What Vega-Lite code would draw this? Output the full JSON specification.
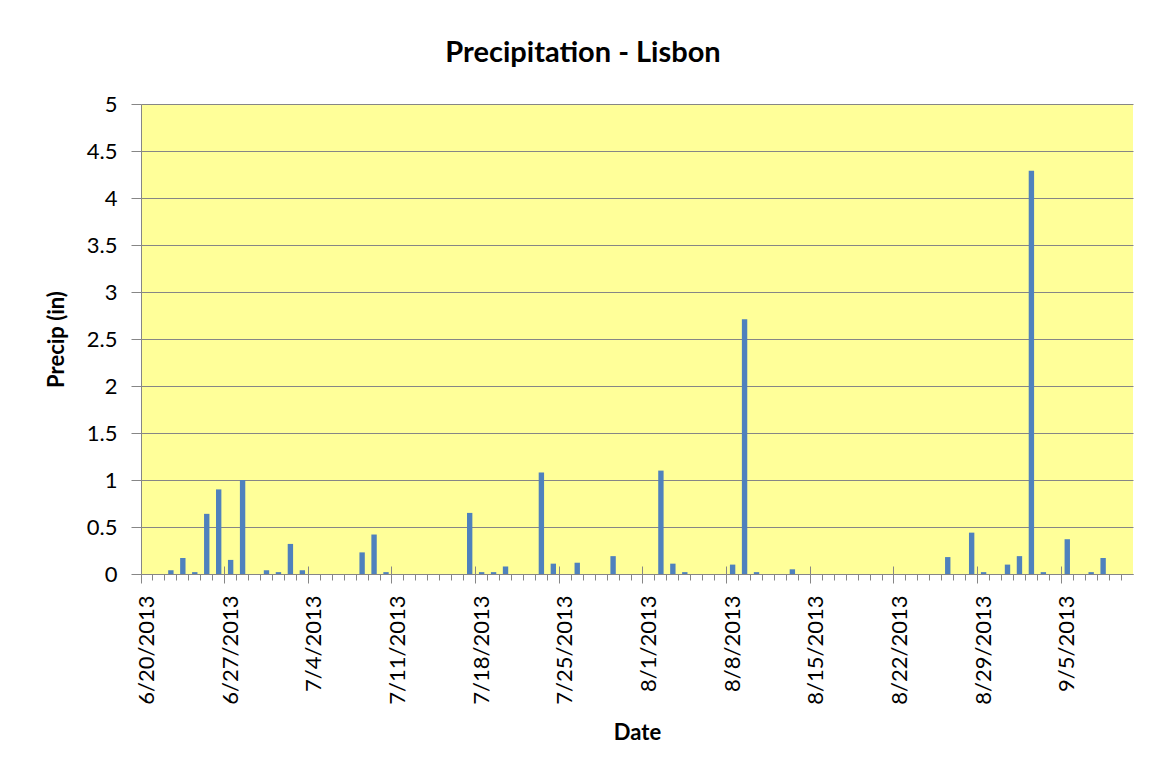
{
  "$schema": "https://vega.github.io/schema/vega-lite/v6.json",
  "autosize": "none",
  "width": 992,
  "height": 470,
  "padding": {"left": 141, "top": 104, "right": 17, "bottom": 199},
  "background": "white",
  "title": {"text": "Precipitation - Lisbon", "font": "Lato", "fontSize": 29, "fontWeight": "bold", "color": "#000000", "anchor": "middle", "offset": 25, "dx": -54},
  "config": {
    "view": {"fill": "#FFFF99", "stroke": null},
    "axis": {"labelFont": "Lato", "titleFont": "Lato", "labelColor": "#000000", "titleColor": "#000000", "domainColor": "#868686", "tickColor": "#868686", "gridColor": "#868686"}
  },
  "data": {"values": [
    {"date": "6/20/2013", "precip": 0},
    {"date": "6/21/2013", "precip": 0},
    {"date": "6/22/2013", "precip": 0.04},
    {"date": "6/23/2013", "precip": 0.17},
    {"date": "6/24/2013", "precip": 0.02},
    {"date": "6/25/2013", "precip": 0.64},
    {"date": "6/26/2013", "precip": 0.9},
    {"date": "6/27/2013", "precip": 0.15},
    {"date": "6/28/2013", "precip": 1.0},
    {"date": "6/29/2013", "precip": 0},
    {"date": "6/30/2013", "precip": 0.04},
    {"date": "7/1/2013", "precip": 0.02},
    {"date": "7/2/2013", "precip": 0.32},
    {"date": "7/3/2013", "precip": 0.04},
    {"date": "7/4/2013", "precip": 0},
    {"date": "7/5/2013", "precip": 0},
    {"date": "7/6/2013", "precip": 0},
    {"date": "7/7/2013", "precip": 0},
    {"date": "7/8/2013", "precip": 0.23},
    {"date": "7/9/2013", "precip": 0.42},
    {"date": "7/10/2013", "precip": 0.02},
    {"date": "7/11/2013", "precip": 0},
    {"date": "7/12/2013", "precip": 0},
    {"date": "7/13/2013", "precip": 0},
    {"date": "7/14/2013", "precip": 0},
    {"date": "7/15/2013", "precip": 0},
    {"date": "7/16/2013", "precip": 0},
    {"date": "7/17/2013", "precip": 0.65},
    {"date": "7/18/2013", "precip": 0.02},
    {"date": "7/19/2013", "precip": 0.02},
    {"date": "7/20/2013", "precip": 0.08},
    {"date": "7/21/2013", "precip": 0},
    {"date": "7/22/2013", "precip": 0},
    {"date": "7/23/2013", "precip": 1.08},
    {"date": "7/24/2013", "precip": 0.11},
    {"date": "7/25/2013", "precip": 0},
    {"date": "7/26/2013", "precip": 0.12},
    {"date": "7/27/2013", "precip": 0},
    {"date": "7/28/2013", "precip": 0},
    {"date": "7/29/2013", "precip": 0.19},
    {"date": "7/30/2013", "precip": 0},
    {"date": "7/31/2013", "precip": 0},
    {"date": "8/1/2013", "precip": 0},
    {"date": "8/2/2013", "precip": 1.1},
    {"date": "8/3/2013", "precip": 0.11},
    {"date": "8/4/2013", "precip": 0.02},
    {"date": "8/5/2013", "precip": 0},
    {"date": "8/6/2013", "precip": 0},
    {"date": "8/7/2013", "precip": 0},
    {"date": "8/8/2013", "precip": 0.1},
    {"date": "8/9/2013", "precip": 2.71},
    {"date": "8/10/2013", "precip": 0.02},
    {"date": "8/11/2013", "precip": 0},
    {"date": "8/12/2013", "precip": 0},
    {"date": "8/13/2013", "precip": 0.05},
    {"date": "8/14/2013", "precip": 0},
    {"date": "8/15/2013", "precip": 0},
    {"date": "8/16/2013", "precip": 0},
    {"date": "8/17/2013", "precip": 0},
    {"date": "8/18/2013", "precip": 0},
    {"date": "8/19/2013", "precip": 0},
    {"date": "8/20/2013", "precip": 0},
    {"date": "8/21/2013", "precip": 0},
    {"date": "8/22/2013", "precip": 0},
    {"date": "8/23/2013", "precip": 0},
    {"date": "8/24/2013", "precip": 0},
    {"date": "8/25/2013", "precip": 0},
    {"date": "8/26/2013", "precip": 0.18},
    {"date": "8/27/2013", "precip": 0},
    {"date": "8/28/2013", "precip": 0.44},
    {"date": "8/29/2013", "precip": 0.02},
    {"date": "8/30/2013", "precip": 0},
    {"date": "8/31/2013", "precip": 0.1},
    {"date": "9/1/2013", "precip": 0.19},
    {"date": "9/2/2013", "precip": 4.29},
    {"date": "9/3/2013", "precip": 0.02},
    {"date": "9/4/2013", "precip": 0},
    {"date": "9/5/2013", "precip": 0.37},
    {"date": "9/6/2013", "precip": 0},
    {"date": "9/7/2013", "precip": 0.02},
    {"date": "9/8/2013", "precip": 0.17},
    {"date": "9/9/2013", "precip": 0},
    {"date": "9/10/2013", "precip": 0}
  ]},
  "resolve": {"axis": {"x": "independent"}},
  "layer": [
    {
      "mark": {"type": "bar", "color": "#4F81BD", "width": {"band": 0.45}},
      "encoding": {
        "x": {
          "field": "date",
          "type": "ordinal",
          "sort": null,
          "scale": {"paddingInner": 0, "paddingOuter": 0},
          "axis": {
            "title": "Date",
            "titleFontSize": 22,
            "titleFontWeight": "bold",
            "titlePadding": 18,
            "labelFontSize": 22,
            "labelAngle": -90,
            "labelAlign": "right",
            "labelBaseline": "middle",
            "labelPadding": 12,
            "bandPosition": 0,
            "domainColor": "#868686",
            "domainWidth": 1,
            "tickWidth": 1,
            "tickSize": {"condition": {"test": "indexof(['6/20/2013','6/27/2013','7/4/2013','7/11/2013','7/18/2013','7/25/2013','8/1/2013','8/8/2013','8/15/2013','8/22/2013','8/29/2013','9/5/2013'], datum.value) >= 0", "value": 9}, "value": 6},
            "labelExpr": "indexof(['6/20/2013','6/27/2013','7/4/2013','7/11/2013','7/18/2013','7/25/2013','8/1/2013','8/8/2013','8/15/2013','8/22/2013','8/29/2013','9/5/2013'], datum.value) >= 0 ? datum.value : ''",
            "labelOverlap": false,
            "grid": false
          }
        },
        "y": {
          "field": "precip",
          "type": "quantitative",
          "scale": {"domain": [0, 5], "nice": false},
          "axis": {
            "title": "Precip (in)",
            "titleFontSize": 22,
            "titleFontWeight": "bold",
            "titlePadding": 18,
            "labelFontSize": 22,
            "labelPadding": 14,
            "format": ".1~f",
            "values": [0, 0.5, 1, 1.5, 2, 2.5, 3, 3.5, 4, 4.5, 5],
            "tickSize": 10,
            "grid": true,
            "gridWidth": 1,
            "domainWidth": 1
          }
        }
      }
    },
    {
      "mark": {"type": "bar", "opacity": 0, "width": {"band": 0.45}},
      "encoding": {
        "x": {
          "field": "date",
          "type": "ordinal",
          "sort": null,
          "axis": {
            "orient": "bottom",
            "offset": -8,
            "title": null,
            "labels": false,
            "domain": false,
            "grid": false,
            "bandPosition": 0,
            "tickWidth": 1,
            "tickSize": {"condition": {"test": "indexof(['6/20/2013','6/27/2013','7/4/2013','7/11/2013','7/18/2013','7/25/2013','8/1/2013','8/8/2013','8/15/2013','8/22/2013','8/29/2013','9/5/2013'], datum.value) >= 0", "value": 8}, "value": 0}
          }
        },
        "y": {"field": "precip", "type": "quantitative"}
      }
    }
  ]
}
